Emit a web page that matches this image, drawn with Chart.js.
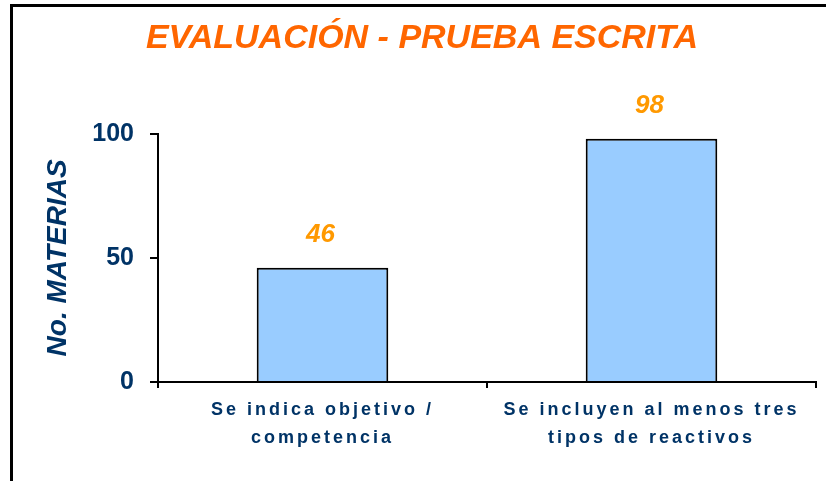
<!DOCTYPE html>
<html>
<head>
<meta charset="utf-8">
<script src="https://cdn.jsdelivr.net/npm/chart.js@4.4.1/dist/chart.umd.min.js"></script>
<style>
  html, body { margin: 0; padding: 0; background: #fff; overflow: hidden; }
  #frame { position: absolute; left: 10px; top: 4px; width: 900px; height: 600px; border: 3px solid #000; }
  #wrap { position: absolute; left: 0; top: 0; width: 826px; height: 481px; }
</style>
</head>
<body>
<div id="frame"></div>
<div id="wrap"><canvas id="chart" width="826" height="481"></canvas></div>
<script>
// chart data
const categories = [
    ['Se indica objetivo /', 'competencia'],
    ['Se incluyen al menos tres', 'tipos de reactivos']
];
const materias = [46, 98];
const yTicks = [0, 50, 100];

const navy = '#003366';

// x labels in the reference are widely spaced
const spacedLabels = {
    id: 'spacedLabels',
    beforeDraw(chart) {
        const sx = chart.scales.x;
        if (sx && !sx._spaced) {
            const orig = sx.drawLabels.bind(sx);
            sx.drawLabels = function (area) {
                chart.ctx.save();
                chart.ctx.letterSpacing = '3px';
                orig(area);
                chart.ctx.restore();
            };
            sx._spaced = true;
        }
    }
};

// value labels above the bars
const valueLabels = {
    id: 'valueLabels',
    afterDatasetsDraw(chart) {
        const ctx = chart.ctx;
        const meta = chart.getDatasetMeta(0);
        ctx.save();
        ctx.font = 'italic bold 26px "Liberation Sans", Arial, sans-serif';
        ctx.fillStyle = '#FF9900';
        ctx.textAlign = 'center';
        ctx.textBaseline = 'middle';
        meta.data.forEach((bar, i) => {
            ctx.fillText(String(materias[i]), bar.x - 2, bar.y - 33);
        });
        ctx.restore();
    }
};

new Chart(document.getElementById('chart').getContext('2d'), {
    type: 'bar',
    data: {
        labels: categories,
        datasets: [{
            data: materias,
            backgroundColor: '#99CCFF',
            borderColor: '#000000',
            borderWidth: 2,
            barPercentage: 0.4,
            categoryPercentage: 1
        }]
    },
    options: {
        responsive: false,
        animation: false,
        layout: { padding: { left: 28, right: 10, top: 0, bottom: 0 } },
        plugins: {
            legend: { display: false },
            tooltip: { enabled: false },
            title: {
                display: true,
                text: 'EVALUACIÓN - PRUEBA ESCRITA',
                color: '#FF6600',
                font: { family: '"Liberation Sans", Arial, sans-serif', size: 34, weight: 'bold', style: 'italic', lineHeight: 1.2 },
                padding: { top: 18, bottom: 75 }
            }
        },
        scales: {
            y: {
                min: 0,
                max: 100,
                afterBuildTicks(scale) {
                    scale.ticks = yTicks.map(v => ({ value: v }));
                },
                afterFit(scale) { scale.width = 130; },
                ticks: {
                    color: navy,
                    padding: 16,
                    font: { family: '"Liberation Sans", Arial, sans-serif', size: 25, weight: 'bold' }
                },
                grid: { drawOnChartArea: false, color: '#000', lineWidth: 2, tickLength: 8 },
                border: { color: '#000', width: 2 },
                title: {
                    display: true,
                    text: 'No. MATERIAS',
                    color: navy,
                    padding: { top: 13, bottom: 0 },
                    font: { family: '"Liberation Sans", Arial, sans-serif', size: 28, weight: 'bold', style: 'italic', lineHeight: 1.2 }
                }
            },
            x: {
                afterFit(scale) { scale.height = 99; },
                ticks: {
                    color: navy,
                    padding: 8,
                    maxRotation: 0,
                    autoSkip: false,
                    font: { family: '"Liberation Sans", Arial, sans-serif', size: 18, weight: 'bold', lineHeight: 1.55 }
                },
                grid: { drawOnChartArea: false, color: '#000', lineWidth: 2, tickLength: 6, offset: true },
                border: { color: '#000', width: 2 }
            }
        }
    },
    plugins: [spacedLabels, valueLabels]
});
</script>
</body>
</html>
